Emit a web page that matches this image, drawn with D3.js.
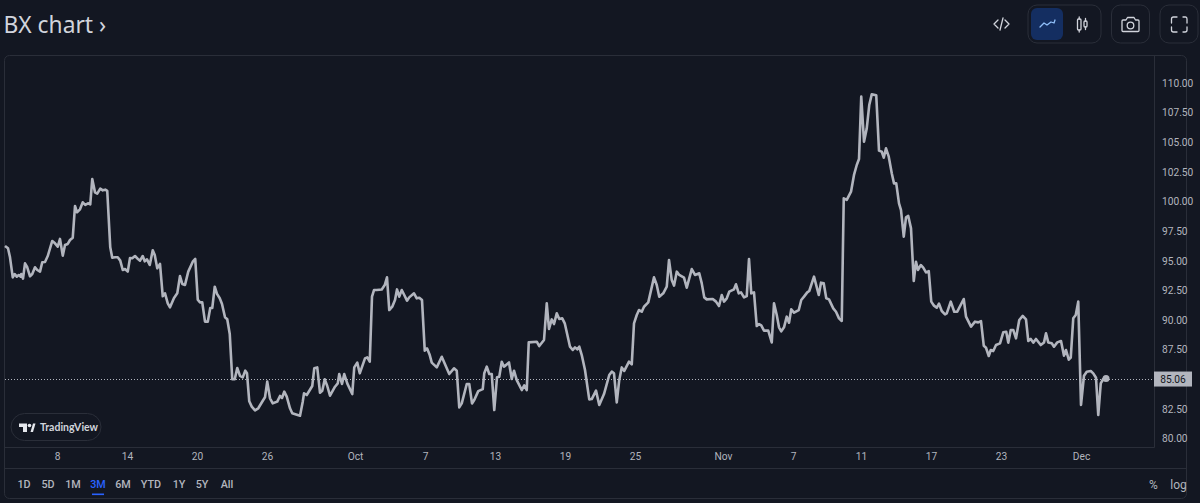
<!DOCTYPE html>
<html>
<head>
<meta charset="utf-8">
<script src="https://cdn.jsdelivr.net/npm/d3@7"></script>
<style>
html, body { margin: 0; padding: 0; background: #131722; overflow: hidden; }
svg { display: block; }
text { font-family: Roboto, "Liberation Sans", sans-serif; }
.yaxis text, .xaxis text { fill: #b2b5be; font-size: 10.2px; }
.range { fill: #b2b5be; font-size: 10.8px; font-weight: 500; }
.unit { fill: #b2b5be; font-size: 12px; }
</style>
</head>
<body>
<svg width="1200" height="503"></svg>
<script>
// bar position of every vertex of the line (one bar is about 2.5px wide)
var bars = [0,1.2,2,3.1,3.9,4.7,5.5,6.3,6.5,7.2,8,8.9,10,10.9,12,12.9,14,14.9,16,17.1,18.9,20,21.1,22,23.1,24,25.1,26,27.1,28,28.8,30,31.1,32.1,33.2,34.1,34.9,36,36.9,38.1,39.1,40.1,40.9,42.1,42.9,44,45.1,46.1,47.1,48,49.1,50,50.9,52,53.3,54,55.1,55.9,56.8,57.9,59.1,59.9,60.9,62,63.1,64,65.1,66,67.6,68.9,70,70.9,72,73.3,75.1,76.1,77.1,78,78.9,80,81.1,82.1,82.9,83.9,84.8,85.9,86.8,88,88.9,89.9,90.9,91.9,92.9,94,95.1,96.1,96.8,97.7,98.7,100,101.3,103.3,104,104.9,106,107.1,108.9,110,110.8,111.7,112.7,114,114.9,118,
119.1,119.6,120.7,122.9,123.7,124.9,126,126.9,127.9,128.9,130,132,133.1,133.7,134.8,135.7,136.9,138.9,139.7,140.9,141.9,144,144.9,145.9,146.8,147.6,148.7,150.7,151.9,152.8,153.7,154.9,156,156.8,157.7,158.7,159.7,160.8,161.7,163.6,164.7,165.7,166.8,167.9,168.8,169.9,170.7,172.7,174.7,177.7,179.6,180.7,181.7,182.7,184.7,185.7,186.8,187.7,189.3,191.1,191.7,192.7,193.7,194.7,195.7,196.8,197.7,198.7,199.6,201.6,202.7,203.6,204.7,206.7,207.7,208.7,209.5,212.7,213.7,215.6,216.7,217.6,218.7,219.6,220.7,221.7,222.9,223.9,226,227.1,228,228.9,229.7,230.7,232,233.7,
234.7,236.4,237.7,239.6,241.7,242.7,243.6,244.7,245.7,246.7,247.7,249.6,250.7,251.6,252.7,253.6,254.7,255.6,257.3,259.6,260.7,261.7,263.3,264.7,265.6,266.7,267.6,268.7,269.7,271.6,272.7,274.7,276,277.7,278.7,279.7,280.7,283.1,284.4,285.6,286.7,287.6,288.7,289.7,291.6,292.4,293.5,294.4,295.6,296.7,297.6,298.5,299.6,300.7,301.6,302.5,303.6,305.3,306.7,307.6,308.7,309.6,310.5,311.6,312.7,313.6,314.5,315.6,317.5,318.5,319.6,320.9,321.7,323.6,325.5,326.4,327.5,328.5,329.6,331.3,332.4,333.6,334.7,
335.5,336.7,338.4,339.6,340.7,341.6,342.5,343.6,344.7,345.7,346.7,348.5,349.6,350.7,351.5,352.4,353.5,354.7,355.6,356.5,357.6,358.4,359.5,360.4,361.3,362.4,363.5,364.4,365.2,366.3,367.3,368.4,369.5,370.5,371.6,372.7,373.6,374.7,376,376.7,378.3,379.7,380.9,383.5,384.4,386.4,388,389.3,390.4,391.5,392.4,393.5,394.3,395.3,396.4,398,399.3,400.5,401.3,402.3,403.3,404.4,405.7,407.1,408.4,409.3,410.3,411.3,412.4,414.3,415.6,416.4,417.3,418.7,419.6,420.9,422.4,423.6,424.4,425.5,426.3,427.3,428.3,429.3,430.4,431.6,432.7,434.3,435.3,436.4,437.3,438.3,439.3,440.4];

// BX close
var prices = [96.25,96.05,95.29,93.60,93.88,93.66,93.80,93.66,93.88,93.49,94.78,94.45,93.69,93.88,94.45,94.22,94.08,94.87,94.90,95.40,96.67,96.47,96.19,96.84,95.43,96.33,96.42,96.75,96.95,99.62,99.09,99.34,99.93,99.71,99.85,99.76,101.90,100.77,100.66,101.08,100.94,101.00,100.89,96.13,95.26,95.29,95.29,95.01,94.22,94.30,94.08,95.23,95.21,95.40,95.12,95.01,95.40,94.95,95.12,94.64,95.88,95.49,94.36,94.73,92.00,92.25,91.41,91.07,91.86,92.25,93.71,93.04,92.96,94.08,94.92,95.15,91.72,91.49,91.49,89.86,89.86,91.01,91.01,92.81,92.20,91.83,91.35,90.23,90.06,88.82,85.00,85.00,85.95,85.28,85.16,85.73,85.50,83.14,82.69,82.38,82.55,83.25,83.48,84.80,83.39,82.97,83.11,83.59,83.42,83.95,83.53,82.55,82.13,81.92,
83.11,83.81,83.67,84.43,85.92,86.00,83.86,84.03,84.99,84.43,83.61,84.37,84.65,85.44,84.60,85.44,84.65,83.75,86.00,86.40,85.50,86.76,86.85,86.48,91.97,92.53,92.53,92.58,92.95,93.60,90.84,91.12,91.68,92.58,91.97,92.53,92.11,91.63,91.91,92.25,91.83,91.88,91.68,87.41,87.61,87.04,86.40,86.00,86.90,85.44,85.92,85.72,82.63,82.96,84.60,84.60,82.96,83.25,84.00,84.17,85.50,86.06,85.44,85.44,82.40,85.16,85.21,86.48,86.06,86.42,85.02,85.72,84.93,84.09,84.48,84.09,88.11,88.17,87.80,88.31,91.40,89.24,90.05,89.66,90.56,90.08,90.14,89.72,87.75,87.47,87.69,87.52,87.75,87.04,85.78,83.30,
83.33,84.04,82.83,83.75,85.36,85.64,85.50,83.05,84.94,86.00,85.70,86.48,86.26,89.72,90.42,90.84,90.70,91.12,91.49,93.60,92.95,91.97,92.25,92.81,95.06,93.37,92.90,94.08,93.80,93.57,92.73,94.30,93.80,93.94,93.09,91.91,91.74,91.77,91.55,91.18,92.11,91.55,91.83,92.39,92.59,93.01,92.25,92.33,91.91,92.02,95.15,92.25,92.33,89.49,89.66,89.55,89.10,89.10,88.11,91.41,90.42,89.38,89.04,89.38,90.28,89.77,90.90,90.62,90.84,91.69,91.97,92.33,92.45,93.66,92.11,93.15,93.09,91.83,91.74,90.98,90.70,90.14,89.92,
100.27,100.13,100.83,102.24,103.08,103.59,108.85,105.05,106.17,108.14,109.04,108.96,104.29,104.20,103.70,104.49,103.78,102.38,101.53,101.53,99.84,99.28,97.03,98.66,98.78,97.73,93.29,94.92,94.22,94.64,94.42,94.02,94.13,91.55,91.21,91.04,91.38,90.76,90.48,90.56,91.55,90.70,90.70,91.77,90.28,89.44,89.86,89.80,89.91,87.83,87.66,86.96,87.47,87.38,87.89,88.03,88.96,89.01,88.09,89.16,89.16,88.45,90.00,90.34,90.06,88.23,88.40,88.09,88.40,87.89,88.11,88.87,88.11,88.03,87.75,88.11,88.23,86.99,87.47,86.65,86.82,90.14,90.42,91.55,82.83,85.30,85.64,85.70,85.50,85.13,81.98,84.65,85.02,85.06];

var lastPrice = 85.06;

// the 85.00 label sits behind the last price badge, so it is left out
var priceTicks = [80,82.5,87.5,90,92.5,95,97.5,100,102.5,105,107.5,110];
var timeLabels = ['8','14','20','26','Oct','7','13','19','25','Nov','7','11','17','23','Dec'];
var timeBars = [20.8,48.8,76.8,104.8,140,168,196,224,252,287.2,315.2,342.4,370.4,398.4,430.4];
var ranges = ['1D','5D','1M','3M','6M','YTD','1Y','5Y','All'];
var rangeCenters = [24,48,73,98,123,151,179,202,227];

var svg = d3.select('svg');

var border = '#2a2e39';
var lineColor = '#b2b5be';

var x = d3.scaleLinear().domain([0, 460]).range([5, 1155]);
var y = d3.scaleLinear().domain([80, 110]).range([438.5, 83]);

// outer frame and the axis separators
svg.append('rect')
    .attr('x', 4.5).attr('y', 55.5)
    .attr('width', 1182).attr('height', 443)
    .attr('rx', 5)
    .attr('fill', 'none')
    .attr('stroke', border);
svg.append('line').attr('x1', 1154.5).attr('x2', 1154.5).attr('y1', 55.5).attr('y2', 447.5).attr('stroke', border);
svg.append('line').attr('x1', 4.5).attr('x2', 1154.5).attr('y1', 447.5).attr('y2', 447.5).attr('stroke', border);
svg.append('line').attr('x1', 4.5).attr('x2', 1186.5).attr('y1', 468.5).attr('y2', 468.5).attr('stroke', border);

// title
svg.append('text')
    .attr('x', 3.5).attr('y', 33)
    .attr('fill', '#d1d4dc')
    .style('font-family', '"Noto Sans"')
    .style('font-size', '22.8px')
    .text('BX chart ›');

// axes
var yAxis = d3.axisRight(y)
    .tickValues(priceTicks)
    .tickSize(0)
    .tickPadding(8)
    .tickFormat(d3.format('.2f'));
svg.append('g')
    .attr('class', 'yaxis')
    .attr('transform', 'translate(1154,0)')
    .call(yAxis)
    .select('.domain').remove();

var xAxis = d3.axisBottom(x)
    .tickValues(timeBars)
    .tickSize(0)
    .tickPadding(5)
    .tickFormat(function(d, i) { return timeLabels[i]; });
svg.append('g')
    .attr('class', 'xaxis')
    .attr('transform', 'translate(0,448)')
    .call(xAxis)
    .select('.domain').remove();

// last price line
svg.append('line')
    .attr('x1', 5).attr('x2', 1154)
    .attr('y1', Math.round(y(lastPrice)) + 0.5).attr('y2', Math.round(y(lastPrice)) + 0.5)
    .attr('stroke', lineColor)
    .attr('stroke-dasharray', '1,2');

// price line
var line = d3.line()
    .x(function(d) { return x(d); })
    .y(function(d, i) { return y(prices[i]); });
svg.append('path')
    .datum(bars)
    .attr('d', line)
    .attr('fill', 'none')
    .attr('stroke', lineColor)
    .attr('stroke-width', 2.6)
    .attr('stroke-linejoin', 'round');

svg.append('circle')
    .attr('cx', x(bars[bars.length - 1]))
    .attr('cy', y(lastPrice))
    .attr('r', 3.5)
    .attr('fill', lineColor);

// price badge
svg.append('rect')
    .attr('x', 1154).attr('y', y(lastPrice) - 7)
    .attr('width', 38).attr('height', 15)
    .attr('fill', lineColor);
svg.append('text')
    .attr('x', 1173).attr('y', y(lastPrice) + 4)
    .attr('text-anchor', 'middle')
    .attr('fill', '#131722')
    .style('font-size', '10.2px')
    .text(lastPrice.toFixed(2));

// TradingView pill
svg.append('rect')
    .attr('x', 11).attr('y', 413.5)
    .attr('width', 90).attr('height', 27)
    .attr('rx', 13.5)
    .attr('fill', '#131722')
    .attr('stroke', border);
var logo = svg.append('g').attr('fill', '#e6e8ee');
logo.append('path').attr('d', 'M19 423.5H27V432H23V427H19Z');
logo.append('circle').attr('cx', 29.5).attr('cy', 425.5).attr('r', 1.8);
logo.append('path').attr('d', 'M30.5 432L33 423.5H35.5L33 432Z');
svg.append('text')
    .attr('x', 40).attr('y', 431)
    .attr('fill', '#d1d4dc')
    .style('font-family', 'Lato')
    .style('font-size', '10.5px')
    .style('font-weight', '700')
    .text('TradingView');

// range buttons
svg.selectAll('.range')
    .data(ranges)
    .enter()
    .append('text')
    .attr('class', 'range')
    .attr('x', function(d, i) { return rangeCenters[i]; })
    .attr('y', 488)
    .attr('text-anchor', 'middle')
    .style('fill', function(d) { return d === '3M' ? '#2962ff' : null; })
    .text(function(d) { return d; });
svg.append('rect')
    .attr('x', 92).attr('y', 493.5)
    .attr('width', 12).attr('height', 1.6)
    .attr('fill', '#2962ff');
svg.append('text').attr('class', 'unit').attr('x', 1153.5).attr('y', 489).attr('text-anchor', 'middle').text('%');
svg.append('text').attr('class', 'unit').attr('x', 1178.5).attr('y', 489).attr('text-anchor', 'middle').text('log');

// toolbar
var icon = '#d1d4dc';
function box(bx, bw) {
    svg.append('rect')
        .attr('x', bx).attr('y', 5)
        .attr('width', bw).attr('height', 38)
        .attr('rx', 9)
        .attr('fill', 'none')
        .attr('stroke', border);
}
box(1028, 73);
box(1111.5, 38);
box(1160, 38);
svg.append('rect')
    .attr('x', 1031).attr('y', 8)
    .attr('width', 32).attr('height', 32)
    .attr('rx', 6)
    .attr('fill', '#142e61');

function stroke(d, color, width) {
    svg.append('path')
        .attr('d', d)
        .attr('fill', 'none')
        .attr('stroke', color)
        .attr('stroke-width', width || 1.3)
        .attr('stroke-linejoin', 'round')
        .attr('stroke-linecap', 'round');
}
// embed
stroke('M998 20L994 24L998 28M1005 20L1009 24L1005 28M1003 18L1000 30', icon);
// line icon
stroke('M1040 27L1044 23L1047 25L1051 22L1054 23L1055 20', '#90bff9');
// candle icon
svg.append('rect').attr('x', 1077.5).attr('y', 19).attr('width', 3.5).attr('height', 11).attr('rx', 1).attr('fill', 'none').attr('stroke', icon).attr('stroke-width', 1.3);
svg.append('rect').attr('x', 1084).attr('y', 21).attr('width', 3).attr('height', 6).attr('rx', 1).attr('fill', 'none').attr('stroke', icon).attr('stroke-width', 1.3);
stroke('M1079.2 17V19M1079.2 30V32M1085.5 18.5V21M1085.5 27V29.5', icon);
// camera
stroke('M1123 20H1126L1127.5 17.5H1134L1135.5 20H1138Q1139 20 1139 21V30.5Q1139 31.5 1138 31.5H1123Q1122 31.5 1122 30.5V21Q1122 20 1123 20Z', icon);
svg.append('circle').attr('cx', 1130.5).attr('cy', 25.5).attr('r', 3.3).attr('fill', 'none').attr('stroke', icon).attr('stroke-width', 1.3);
// fullscreen
stroke('M1171.5 23V19Q1171.5 17 1173.5 17H1177M1183 17H1185.5Q1187 17 1187 19V23M1187 27V30Q1187 32 1185 32H1183M1177 32H1173.5Q1171.5 32 1171.5 30V27', icon);
</script>
</body>
</html>
